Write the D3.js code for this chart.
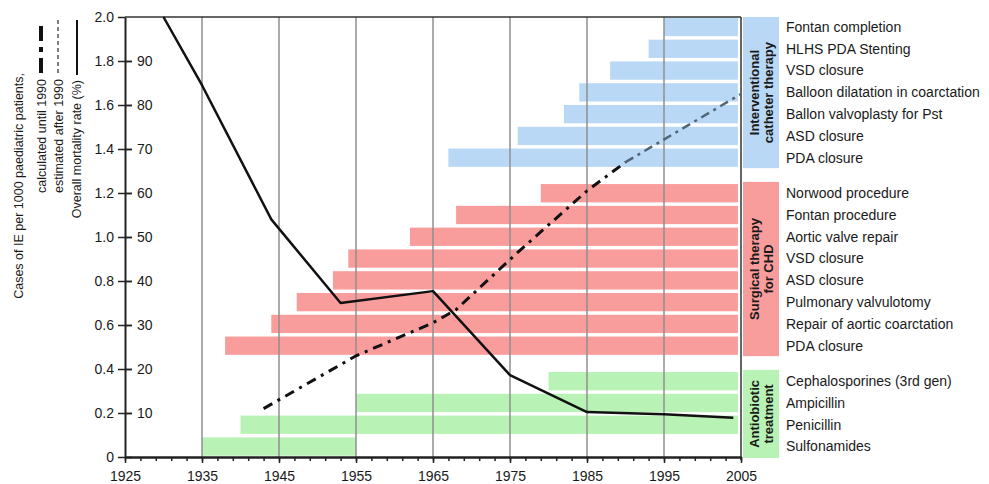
<!DOCTYPE html>
<html>
<head>
<meta charset="utf-8">
<title>IE cases, mortality and CHD therapy timeline</title>
<script src="https://cdn.jsdelivr.net/npm/d3@7"></script>
<style>
  body { margin: 0; background: #fff; }
  text { font-family: Arial, "Liberation Sans", sans-serif; fill: #1a1a1a; }
</style>
</head>
<body>
<div id="chart"></div>
<script>
// ---- data ----
var yearTicks = [1925, 1935, 1945, 1955, 1965, 1975, 1985, 1995, 2005];
var gridYears = [1935, 1945, 1955, 1965, 1975, 1985, 1995];
var caseTicks = [0, 0.2, 0.4, 0.6, 0.8, 1.0, 1.2, 1.4, 1.6, 1.8, 2.0];
var rateTicks = [10, 20, 30, 40, 50, 60, 70, 80, 90];

// bottom -> top inside each group
var antibioticLabels = ["Sulfonamides", "Penicillin", "Ampicillin", "Cephalosporines (3rd gen)"];
var antibioticStart  = [1935, 1940, 1955, 1980];
var antibioticEnd    = [1955, 2004.6, 2004.6, 2004.6];

var surgicalLabels = ["PDA closure", "Repair of aortic coarctation", "Pulmonary valvulotomy", "ASD closure",
                      "VSD closure", "Aortic valve repair", "Fontan procedure", "Norwood procedure"];
var surgicalStart  = [1938, 1944, 1947.3, 1952, 1954, 1962, 1968, 1979];
var surgicalEnd    = [2004.6, 2004.6, 2004.6, 2004.6, 2004.6, 2004.6, 2004.6, 2004.6];

var catheterLabels = ["PDA closure", "ASD closure", "Ballon valvoplasty for Pst", "Balloon dilatation in coarctation",
                      "VSD closure", "HLHS PDA Stenting", "Fontan completion"];
var catheterStart  = [1967, 1976, 1982, 1984, 1988, 1993, 1995];
var catheterEnd    = [2004.6, 2004.6, 2004.6, 2004.6, 2004.6, 2004.6, 2004.6];

var groupTitles = [["Antiobiotic", "treatment"], ["Surgical therapy", "for CHD"], ["Interventional", "catheter therapy"]];
var groupColors = ["#b8f2b4", "#f99c9c", "#b8d8f6"];

var mortYears = [1930, 1935, 1944, 1953, 1965, 1975, 1985, 1995, 2004];
var mortRate  = [100, 84.5, 54, 35, 37.7, 18.6, 10.2, 9.7, 8.9];

var ieYears = [1943, 1955, 1965, 1968, 1976, 1985, 1990];
var ieCases = [0.22, 0.46, 0.61, 0.67, 0.93, 1.21, 1.34];

var ieEstYears = [1990, 2005];
var ieEstCases = [1.34, 1.65];

// ---- layout ----
var width = 989, height = 484;
var pLeft = 125, pRight = 741, pTop = 17, pBottom = 457;

var svg = d3.select("#chart").append("svg")
    .attr("width", width)
    .attr("height", height);

var x = d3.scaleLinear().domain([1925, 2005]).range([pLeft, pRight]);
var yCases = d3.scaleLinear().domain([0, 2]).range([pBottom, pTop]);
var yRate = d3.scaleLinear().domain([0, 100]).range([pBottom, pTop]);
var rowY = d3.scaleLinear().domain([0, 20.2]).range([pBottom, pTop]);

var groups = [
  {labels: antibioticLabels, start: antibioticStart, end: antibioticEnd},
  {labels: surgicalLabels, start: surgicalStart, end: surgicalEnd},
  {labels: catheterLabels, start: catheterStart, end: catheterEnd}
];
var gap = 0.63, offset = 0;
groups.forEach(function(g, gi){
  g.row0 = offset;
  g.color = groupColors[gi];
  g.title = groupTitles[gi];
  offset += g.labels.length + gap;
});

// bars
groups.forEach(function(g){
  var rows = g.labels.map(function(l, i){ return {label: l, s: g.start[i], e: g.end[i], row: g.row0 + i}; });

  svg.append("g").selectAll("rect")
    .data(rows).enter()
    .append("rect")
    .attr("x", function(d){ return x(d.s); })
    .attr("width", function(d){ return x(d.e) - x(d.s); })
    .attr("y", function(d){ return rowY(d.row + 0.9); })
    .attr("height", function(d){ return rowY(d.row + 0.06) - rowY(d.row + 0.9); })
    .attr("fill", g.color);

  svg.append("g").selectAll("text")
    .data(rows).enter()
    .append("text")
    .attr("x", 786)
    .attr("y", function(d){ return rowY(d.row + 0.48); })
    .attr("dy", "0.35em")
    .style("font-size", "14px")
    .text(function(d){ return d.label; });

  // group box on the right
  var y1 = Math.max(pTop, rowY(g.row0 + g.labels.length));
  var y2 = rowY(g.row0) + (g.row0 === 0 ? 1 : 0);
  svg.append("rect")
    .attr("x", 743).attr("width", 36)
    .attr("y", y1).attr("height", y2 - y1)
    .attr("fill", g.color);
  var t = svg.append("text")
    .attr("transform", "translate(761," + ((y1 + y2) / 2) + ") rotate(-90)")
    .attr("text-anchor", "middle")
    .style("font-size", "13px")
    .style("font-weight", "bold");
  t.append("tspan").attr("x", 0).attr("dy", "-0.15em").text(g.title[0]);
  t.append("tspan").attr("x", 0).attr("dy", "1.08em").text(g.title[1]);
});

// grid lines (drawn over the bars)
svg.append("g").selectAll("line")
  .data(gridYears).enter()
  .append("line")
  .attr("x1", function(d){ return x(d); })
  .attr("x2", function(d){ return x(d); })
  .attr("y1", pTop).attr("y2", pBottom)
  .style("stroke", "#8f8f8f")
  .style("stroke-width", "1.5");

// frame
svg.append("line").attr("x1", pLeft).attr("x2", pRight).attr("y1", pTop).attr("y2", pTop)
  .style("stroke", "#333").style("stroke-width", "1.5");
svg.append("line").attr("x1", pRight).attr("x2", pRight).attr("y1", pTop).attr("y2", pBottom + 3)
  .style("stroke", "#333").style("stroke-width", "1.5");

// axes
var fmt = function(d){ return d === 0 ? "0" : d3.format(".1f")(d); };
var axL = svg.append("g").attr("transform", "translate(" + pLeft + ",0)")
  .call(d3.axisLeft(yCases).tickValues(caseTicks).tickFormat(fmt).tickSize(7).tickSizeOuter(0).tickPadding(4));
var axR = svg.append("g").attr("transform", "translate(" + pLeft + ",0)")
  .call(d3.axisRight(yRate).tickValues(rateTicks).tickSize(7).tickPadding(5));
axR.select(".domain").remove();
svg.append("g").attr("transform", "translate(0," + pBottom + ")")
  .call(d3.axisBottom(x).tickValues(d3.range(1925, 2006, 2)).tickFormat("").tickSize(4).tickSizeOuter(0));
var axB = svg.append("g").attr("transform", "translate(0," + pBottom + ")")
  .call(d3.axisBottom(x).tickValues(yearTicks).tickFormat(d3.format("d")).tickSize(6).tickSizeOuter(0).tickPadding(8));

svg.selectAll(".tick text").style("font-size", "14px").style("font-family", "Arial, 'Liberation Sans', sans-serif").attr("fill", "#1a1a1a");
svg.selectAll(".domain").style("stroke", "#222").style("stroke-width", "2");
svg.selectAll(".tick line").style("stroke", "#222").style("stroke-width", "1.5");
// the crossing ticks on the left axis
axL.selectAll(".tick line").attr("x1", 7);
axL.selectAll(".tick").filter(function(d){ return d === 2; }).select("line").attr("x1", 0);

// lines
var mortLine = d3.line()
  .x(function(d){ return x(d[0]); })
  .y(function(d){ return yRate(d[1]); });
var caseLine = d3.line()
  .x(function(d){ return x(d[0]); })
  .y(function(d){ return yCases(d[1]); });

svg.append("path")
  .datum(d3.zip(ieEstYears, ieEstCases))
  .attr("d", caseLine)
  .style("fill", "none")
  .style("stroke", "#4f6679")
  .style("stroke-width", "2.5")
  .style("stroke-dasharray", "9,5,3,5");

svg.append("path")
  .datum(d3.zip(ieYears, ieCases))
  .attr("d", caseLine)
  .style("fill", "none")
  .style("stroke", "#111")
  .style("stroke-width", "3")
  .style("stroke-dasharray", "10,6,3,6");

svg.append("path")
  .datum(d3.zip(mortYears, mortRate))
  .attr("d", mortLine)
  .style("fill", "none")
  .style("stroke", "#111")
  .style("stroke-width", "2.5")
  .style("stroke-linejoin", "round");

// legend (rotated, on the far left)
var legend = [
  {text: "Cases of IE per 1000 paediatric patients,", bx: 23, ey: 73},
  {text: "calculated until 1990", bx: 46, ey: 79, sx: 41, stroke: "#111", dash: "15,6,5,6", w: 4, sy: [20, 73]},
  {text: "estimated after 1990", bx: 63, ey: 79, sx: 58, stroke: "#777f88", dash: "4,3", w: 2, sy: [20, 73]},
  {text: "Overall mortality rate (%)", bx: 81, ey: 80, sx: 77, stroke: "#111", dash: null, w: 2, sy: [20, 75]}
];
legend.forEach(function(l){
  svg.append("text")
    .attr("transform", "translate(" + l.bx + "," + l.ey + ") rotate(-90)")
    .attr("text-anchor", "end")
    .style("font-size", "12.5px")
    .text(l.text);
  if (l.sy) {
    svg.append("line")
      .attr("x1", l.sx).attr("x2", l.sx)
      .attr("y1", l.sy[1]).attr("y2", l.sy[0])
      .style("stroke", l.stroke)
      .style("stroke-width", l.w)
      .style("stroke-dasharray", l.dash);
  }
});
</script>
</body>
</html>
